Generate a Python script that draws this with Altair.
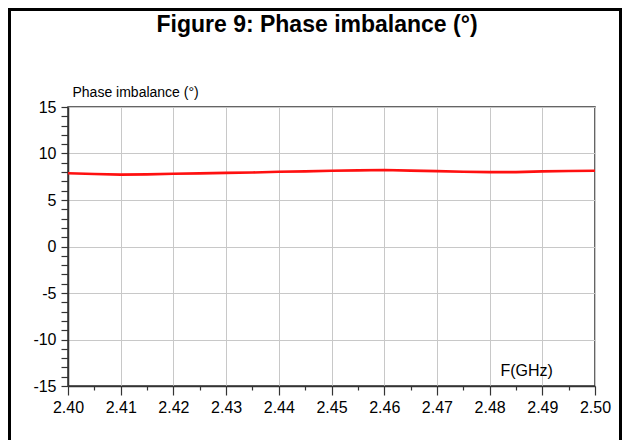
import altair as alt
import pandas as pd

# Data
freq_ghz = [2.400, 2.405, 2.410, 2.415, 2.420, 2.425, 2.430, 2.435, 2.440, 2.445,
            2.450, 2.455, 2.460, 2.465, 2.470, 2.475, 2.480, 2.485, 2.490, 2.495, 2.500]
phase_imb = [7.87, 7.80, 7.73, 7.76, 7.82, 7.86, 7.92, 7.96, 8.03, 8.08,
             8.15, 8.19, 8.22, 8.16, 8.10, 8.04, 8.00, 8.00, 8.08, 8.12, 8.15]

x_ticks = [2.400, 2.405, 2.410, 2.415, 2.420, 2.425, 2.430, 2.435, 2.440, 2.445,
           2.450, 2.455, 2.460, 2.465, 2.470, 2.475, 2.480, 2.485, 2.490, 2.495, 2.500]
y_ticks = list(range(-15, 16))

chart_title = "Figure 9: Phase imbalance (°)"

df = pd.DataFrame({"f": freq_ghz, "p": phase_imb})

W, H = 527, 279
FONT = "Liberation Sans"

x_major = "round(datum.value*1000) % 10 == 0"
y_major = "datum.value % 5 == 0"

x_enc = alt.X(
    "f:Q",
    scale=alt.Scale(domain=[2.40, 2.50], nice=False, zero=False),
    axis=alt.Axis(
        values=x_ticks,
        labelExpr=f"{x_major} ? format(datum.value, '.2f') : ''",
        labelOverlap=False, labelFlush=False, labelBound=False,
        labelFont=FONT, labelFontSize=16, labelColor="#000",
        labelPadding=4,
        tickSize={"condition": {"test": x_major, "value": 9}, "value": 4},
        tickColor="#333", tickWidth=1.2,
        gridColor="#c8c8c8", gridWidth=1,
        gridOpacity={"condition": {"test": x_major, "value": 1}, "value": 0},
        domainColor="#333", domainWidth=1.5,
        title="F(GHz)", titleFont=FONT, titleFontSize=16, titleFontWeight="normal",
        titleColor="#000", titleX=432, titleY=-16, titleAlign="left",
        titleBaseline="middle", titleAnchor="start",
    ),
)

y_enc = alt.Y(
    "p:Q",
    scale=alt.Scale(domain=[-15, 15], nice=False, zero=False),
    axis=alt.Axis(
        values=y_ticks,
        labelExpr=f"{y_major} ? ('' + datum.value) : ''",
        labelOverlap=False, labelFlush=False, labelBound=False,
        labelFont=FONT, labelFontSize=16, labelColor="#000",
        labelPadding=5,
        tickSize=7, tickColor="#333", tickWidth=1.2,
        gridColor="#c8c8c8", gridWidth=1,
        gridOpacity={"condition": {"test": y_major, "value": 1}, "value": 0},
        domainColor="#333", domainWidth=1.5,
        title="Phase imbalance (°)", titleFont=FONT, titleFontSize=14,
        titleFontWeight="normal", titleColor="#000", titleAngle=0,
        titleX=4, titleY=-15, titleAlign="left", titleBaseline="middle",
        titleAnchor="start",
    ),
)

line = alt.Chart(df).mark_line(color="#ff1010", strokeWidth=2.6).encode(x=x_enc, y=y_enc)

border = alt.Chart(df).mark_rect(filled=False, stroke="#000", strokeWidth=2.5).encode(
    x=alt.value(-59), x2=alt.value(553), y=alt.value(-98), y2=alt.value(345)
)

title_mark = alt.Chart(df.head(1)).mark_text(
    text=chart_title, font=FONT, fontSize=23, fontWeight="bold", color="#000",
    align="center", baseline="middle",
).encode(x=alt.value(249), y=alt.value(-82))

chart = alt.layer(line, border, title_mark).properties(
    width=W, height=H,
    autosize=alt.AutoSizeParams(type="none"),
    padding={"left": 60, "top": 99, "right": 27, "bottom": 54},
    background="white",
).configure_view(stroke="#333", strokeWidth=1.5)

chart.save("out.html", embed_options={"renderer": "svg", "actions": False})
